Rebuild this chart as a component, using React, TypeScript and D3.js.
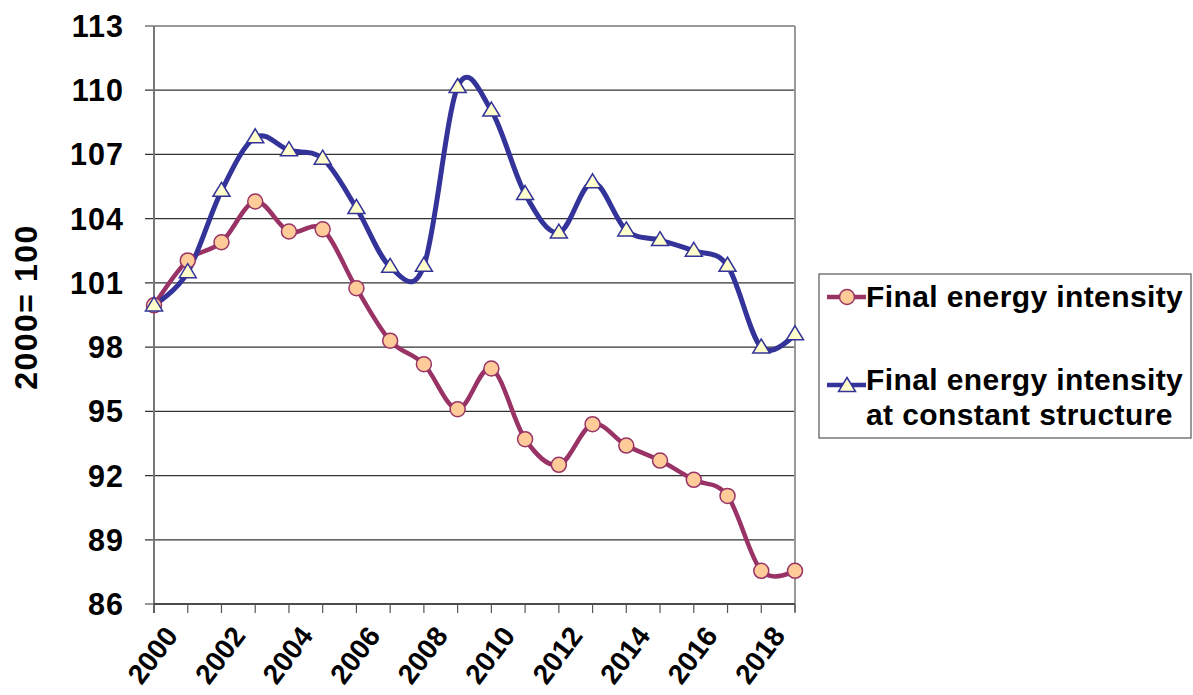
import React from "react";
import * as d3 from "d3";

const years: number[] = [2000,2001,2002,2003,2004,2005,2006,2007,2008,2009,2010,2011,2012,2013,2014,2015,2016,2017,2018,2019];
const finalIntensity: number[] = [99.95,102.05,102.9,104.8,103.4,103.5,100.75,98.3,97.2,95.1,97.0,93.7,92.5,94.4,93.4,92.7,91.8,91.05,87.55,87.55];
const constantStructure: number[] = [99.95,101.5,105.3,107.8,107.2,106.8,104.5,101.75,101.8,110.15,109.05,105.15,103.35,105.7,103.45,103.0,102.5,101.8,97.98,98.6];
const yTicks: number[] = [86,89,92,95,98,101,104,107,110,113];
const xLabelYears: number[] = [2000,2002,2004,2006,2008,2010,2012,2014,2016,2018];
const seriesNames: string[][] = [["Final energy intensity"], ["Final energy intensity", "at constant structure"]];
const yTitle = "2000= 100";

const W = 1193, H = 695;
const left = 154, right = 795, top = 26, bottom = 604;
const FONT = "'Liberation Sans', Arial, sans-serif";
const RED = "#993366", BLUE = "#333399";

export default function App() {
  const x = d3.scaleLinear().domain([2000, 2019]).range([left, right]);
  const y = d3.scaleLinear().domain([86, 113]).range([bottom, top]);
  const line = d3.line<number>()
    .x((_, i) => x(years[i]))
    .y((d) => y(d))
    .curve(d3.curveCardinal.tension(0));
  const tri = (cx: number, cy: number, s = 8.5) =>
    `M${cx},${cy - s} L${cx + s},${cy + s * 0.65} L${cx - s},${cy + s * 0.65} Z`;

  return (
    <svg width={W} height={H} style={{ position: "absolute", left: 0, top: 0, background: "#fff" }}>
      {/* gridlines */}
      {yTicks.map((t) => (
        <g key={t}>
          <line x1={left - 9} x2={right} y1={y(t)} y2={y(t)} stroke={t === 113 ? "#999" : "#333"} strokeWidth={t === 113 ? 2 : 1.2} />
          <text x={124} y={y(t)} dy="0.36em" textAnchor="end" fontFamily={FONT} fontWeight="bold" fontSize={30.5} letterSpacing={1}>{t}</text>
        </g>
      ))}
      {/* plot border right and left axis */}
      <line x1={right} x2={right} y1={top} y2={bottom + 8} stroke="#999" strokeWidth={2} />
      <line x1={left} x2={left} y1={top} y2={bottom + 9} stroke="#777" strokeWidth={2} />
      <line x1={left} x2={right} y1={bottom} y2={bottom} stroke="#333" strokeWidth={1.5} />
      {years.map((yr) => (
        <line key={yr} x1={x(yr)} x2={x(yr)} y1={bottom} y2={bottom + 9} stroke="#555" strokeWidth={1.2} />
      ))}
      {xLabelYears.map((yr) => (
        <text key={yr} transform={`translate(${x(yr) + 9},${bottom + 20}) rotate(-53)`} textAnchor="end" dy="0.72em"
          fontFamily={FONT} fontWeight="bold" fontSize={28}>{yr}</text>
      ))}
      <text transform={`translate(37,307) rotate(-90)`} textAnchor="middle" fontFamily={FONT} fontWeight="bold" fontSize={32} letterSpacing={1.5}>{yTitle}</text>

      {/* series */}
      <path d={line(finalIntensity) || ""} fill="none" stroke={RED} strokeWidth={4.5} />
      <path d={line(constantStructure) || ""} fill="none" stroke={BLUE} strokeWidth={5} />
      {finalIntensity.map((v, i) => (
        <circle key={i} cx={x(years[i])} cy={y(v)} r={7.5} fill="#FFCC99" stroke={RED} strokeWidth={1.5} />
      ))}
      {constantStructure.map((v, i) => (
        <path key={i} d={tri(x(years[i]), y(v))} fill="#FFFFCC" stroke={BLUE} strokeWidth={1.5} />
      ))}

      {/* legend */}
      <rect x={819} y={274} width={372} height={164} fill="#fff" stroke="#555" strokeWidth={1.2} />
      <line x1={827} x2={866} y1={297} y2={297} stroke={RED} strokeWidth={4.5} />
      <circle cx={847} cy={297} r={7.5} fill="#FFCC99" stroke={RED} strokeWidth={1.5} />
      <text x={866} y={307} fontFamily={FONT} fontWeight="bold" fontSize={30} letterSpacing={0.4}>{seriesNames[0][0]}</text>
      <line x1={827} x2={866} y1={385} y2={385} stroke={BLUE} strokeWidth={4.5} />
      <path d={tri(847, 386)} fill="#FFFFCC" stroke={BLUE} strokeWidth={1.5} />
      <text x={866} y={390} fontFamily={FONT} fontWeight="bold" fontSize={30} letterSpacing={0.4}>{seriesNames[1][0]}</text>
      <text x={866} y={425} fontFamily={FONT} fontWeight="bold" fontSize={30} letterSpacing={0.4}>{seriesNames[1][1]}</text>
    </svg>
  );
}
